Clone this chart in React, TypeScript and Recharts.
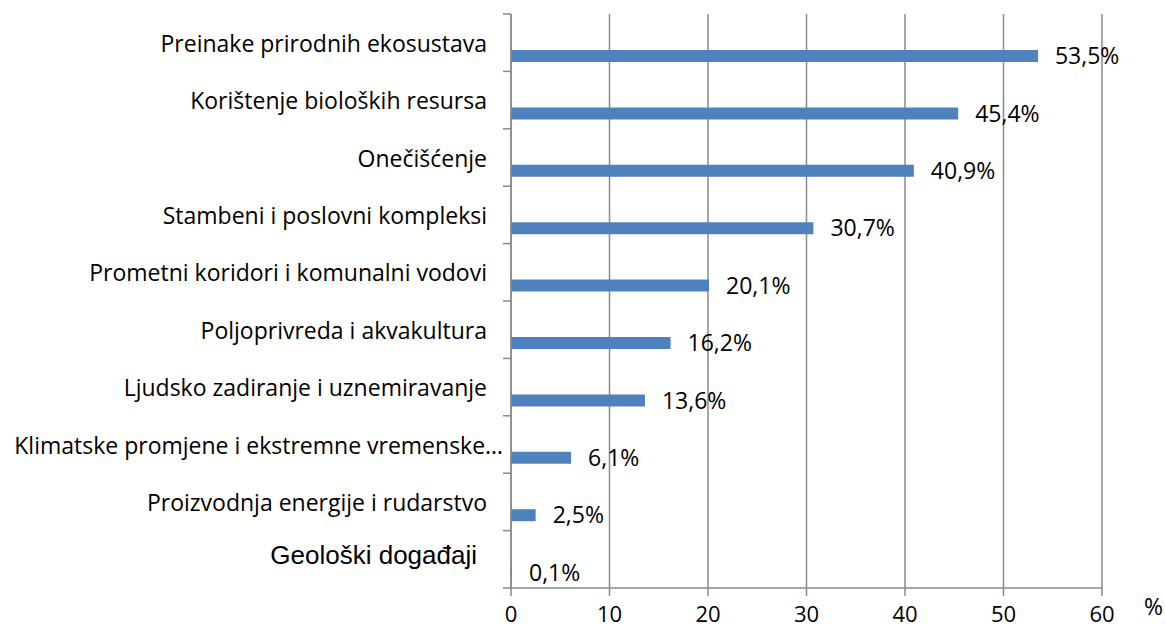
import React from 'react';
import { BarChart, Bar, XAxis, YAxis, CartesianGrid, LabelList, Label } from 'recharts';

const categories = [
  'Preinake prirodnih ekosustava',
  'Korištenje bioloških resursa',
  'Onečišćenje',
  'Stambeni i poslovni kompleksi',
  'Prometni koridori i komunalni vodovi',
  'Poljoprivreda i akvakultura',
  'Ljudsko zadiranje i uznemiravanje',
  'Klimatske promjene i ekstremne vremenske…',
  'Proizvodnja energije i rudarstvo',
  'Geološki događaji',
];
const values = [53.5, 45.4, 40.9, 30.7, 20.1, 16.2, 13.6, 6.1, 2.5, 0.1];
const xTicks = [0, 10, 20, 30, 40, 50, 60];

const data = categories.map((c, i) => ({ name: c, value: values[i] }));

const W = 1165;
const H = 630;
const M = { top: 14, right: 63, bottom: 12, left: 0 };
const X_AXIS_H = 30;
const PLOT_H = H - M.top - M.bottom - X_AXIS_H;
const HALF = PLOT_H / categories.length / 2;
const GRAY = '#8a8a8a';
const FONT = '"Open Sans", sans-serif';

const CategoryTick = (props: any) => {
  const { x, y, payload, index } = props;
  const text: string = payload.value;
  const isGeo = text === 'Geološki događaji';
  const isLong = text.endsWith('…');
  const last = index === categories.length - 1;
  return (
    <g>
      <line x1={x - 8} x2={x} y1={y - HALF} y2={y - HALF} stroke={GRAY} strokeWidth={1.5} />
      {last && <line x1={x - 8} x2={x} y1={y + HALF} y2={y + HALF} stroke={GRAY} strokeWidth={1.5} />}
      <text
        x={isLong ? x - 8 : isGeo ? x - 34 : x - 24}
        y={isGeo ? y - 4 : y}
        textAnchor="end"
        dominantBaseline="central"
        fill="#000"
        style={{ fontFamily: isGeo ? '"Liberation Sans", Arial, sans-serif' : FONT, fontSize: isGeo ? 26 : 23 }}
      >
        {text}
      </text>
    </g>
  );
};

const fmt = (v: any) => `${String(v).replace('.', ',')}%`;

export default function App() {
  return (
    <div style={{ position: 'absolute', left: 0, top: 0, background: '#fff' }}>
      <BarChart
        width={W}
        height={H}
        data={data}
        layout="vertical"
        margin={M}
        barSize={12}
        barGap={14}
      >
        <CartesianGrid horizontal={false} stroke={GRAY} strokeWidth={1.5} />
        <XAxis
          type="number"
          domain={[0, 60]}
          ticks={xTicks}
          height={X_AXIS_H}
          tickSize={8}
          tickMargin={10}
          axisLine={{ stroke: GRAY, strokeWidth: 1.5 }}
          tickLine={{ stroke: GRAY, strokeWidth: 1.5 }}
          tick={{ fill: '#000', fontSize: 22, fontFamily: FONT }}
        >
          <Label value="%" position="right" offset={42} dy={4} style={{ fill: '#000', fontSize: 23, fontFamily: FONT }} />
        </XAxis>
        <YAxis
          type="category"
          dataKey="name"
          width={511}
          tickSize={0}
          tickMargin={0}
          tickLine={false}
          interval={0}
          axisLine={{ stroke: GRAY, strokeWidth: 1.5 }}
          tick={<CategoryTick />}
        />
        <Bar dataKey="empty" fill="#4F81BD" isAnimationActive={false} />
        <Bar dataKey="value" fill="#4F81BD" isAnimationActive={false}>
          <LabelList
            dataKey="value"
            position="right"
            offset={17}
            formatter={fmt}
            style={{ fill: '#000', fontSize: 23, fontFamily: FONT }}
          />
        </Bar>
      </BarChart>
    </div>
  );
}
